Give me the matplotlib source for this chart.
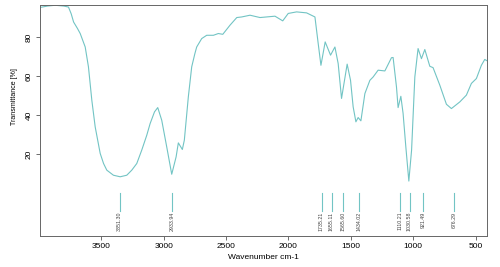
import matplotlib
matplotlib.use("Agg")
import matplotlib.pyplot as plt

plt.rcParams['font.family'] = ['Liberation Sans', 'DejaVu Sans']

# spectrum (wavenumber, transmittance %)
wavenumber = [3996, 3930, 3868, 3800, 3762, 3740, 3721, 3690, 3668, 3628, 3602,
              3575, 3548, 3508, 3481, 3455, 3402, 3348, 3295, 3255, 3215, 3175,
              3135, 3108, 3073, 3047, 3015, 2975, 2935, 2900, 2882, 2850, 2834,
              2802, 2775, 2750, 2735, 2695, 2655, 2601, 2562, 2526, 2468, 2414,
              2375, 2308, 2228, 2108, 2046, 2002, 1935, 1855, 1788, 1762, 1740,
              1706, 1663, 1628, 1602, 1575, 1530, 1503, 1482, 1460, 1442, 1420,
              1388, 1348, 1322, 1282, 1228, 1175, 1162, 1135, 1122, 1100, 1082,
              1060, 1036, 1014, 988, 962, 935, 908, 868, 842, 788, 735, 695, 628,
              575, 535, 495, 455, 428, 412]
transmittance = [95.2, 96.0, 96.4, 96.0, 95.5, 92.0, 87.8, 84.5, 81.9, 75.0, 64.8,
                 47.7, 34.0, 20.4, 15.2, 11.8, 9.2, 8.4, 9.2, 11.8, 15.2, 22.1,
                 29.7, 35.7, 41.7, 43.9, 37.4, 23.7, 9.7, 18.6, 25.8, 22.4, 27.2,
                 49.4, 64.8, 71.5, 75.0, 79.3, 81.0, 81.0, 81.9, 81.5, 86.2, 90.1,
                 90.4, 91.3, 90.1, 90.8, 88.4, 92.2, 93.0, 92.5, 90.4, 76.8, 65.6,
                 77.6, 70.8, 75.0, 66.5, 48.6, 66.2, 57.9, 44.3, 36.6, 38.8, 37.1,
                 51.1, 57.9, 59.6, 63.1, 62.7, 69.5, 69.6, 54.5, 43.9, 49.7, 40.9,
                 23.7, 6.2, 22.1, 59.6, 74.2, 69.0, 73.7, 65.1, 64.4, 55.4, 45.6,
                 43.4, 46.8, 50.3, 56.3, 58.8, 65.6, 68.6, 68.0]

peaks = [3351.30, 2933.94, 1735.21, 1655.11, 1565.60, 1434.02, 1110.21,
         1030.58, 921.49, 676.29]
peak_labels = ["3351.30", "2933.94", "1735.21", "1655.11", "1565.60",
               "1434.02", "1110.21", "1030.58", "921.49", "676.29"]

teal = "#72c4c4"

fig = plt.figure(figsize=(5, 2.67), dpi=100)
ax = fig.add_axes([0.08, 0.116, 0.894, 0.865])

ax.plot(wavenumber, transmittance, color=teal, lw=0.8)

# peak markers
for p, lab in zip(peaks, peak_labels):
    ax.plot([p, p], [0, -9.2], color=teal, lw=0.8)
    ax.text(p, -9.6, lab, rotation=90, ha='center', va='top',
            fontsize=3.8, color='#444444')

ax.set_xlim(3990, 410)
ax.set_ylim(-22, 96.5)
ax.set_xticks([3500, 3000, 2500, 2000, 1500, 1000, 500])
ax.set_yticks([20, 40, 60, 80])
ax.tick_params(axis='x', labelsize=6, length=3, width=0.6, color='#555555', pad=2)
ax.tick_params(axis='y', labelsize=6, length=3, width=0.6, color='#555555', pad=2,
               labelrotation=90)
for lab in ax.get_yticklabels():
    lab.set_va('center')
for s in ax.spines.values():
    s.set_color('#666666')
    s.set_linewidth(0.7)

ax.set_xlabel("Wavenumber cm-1", fontsize=6, labelpad=3)
fig.text(0.03, 1 - 97 / 267, "Transmittance [%]", rotation=90, fontsize=5,
         ha='center', va='center')

fig.savefig("out.png", dpi=100)
